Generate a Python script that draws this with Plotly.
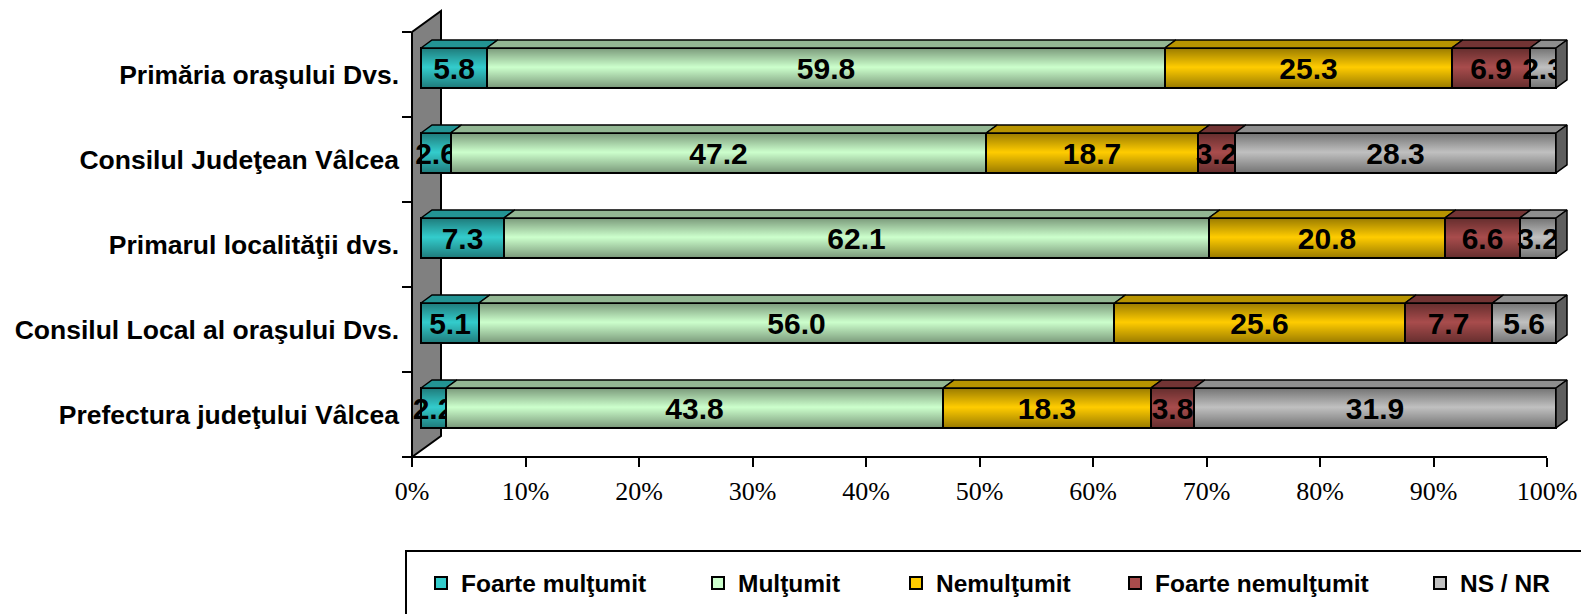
import plotly.graph_objects as go

# ---- data -------------------------------------------------------------
categories = [
    "Primăria oraşului Dvs.",
    "Consilul Judeţean Vâlcea",
    "Primarul localităţii dvs.",
    "Consilul Local al oraşului Dvs.",
    "Prefectura judeţului Vâlcea",
]
series_names = ["Foarte mulţumit", "Mulţumit", "Nemulţumit", "Foarte nemulţumit", "NS / NR"]

foarte_multumit = [5.8, 2.6, 7.3, 5.1, 2.2]
multumit = [59.8, 47.2, 62.1, 56.0, 43.8]
nemultumit = [25.3, 18.7, 20.8, 25.6, 18.3]
foarte_nemultumit = [6.9, 3.2, 6.6, 7.7, 3.8]
ns_nr = [2.3, 28.3, 3.2, 5.6, 31.9]

x_ticks = [0, 10, 20, 30, 40, 50, 60, 70, 80, 90, 100]
x_tick_labels = [f"{t}%" for t in x_ticks]

series_values = [foarte_multumit, multumit, nemultumit, foarte_nemultumit, ns_nr]

# ---- styling ----------------------------------------------------------
front_colors = ["#33CCCC", "#CCFFCC", "#FFCC00", "#A84C4C", "#C0C0C0"]
top_colors = ["#239494", "#93B793", "#B89400", "#723434", "#8E8E8E"]
end_color = "#5E5E5E"
wall_color = "#808080"

SANS = "Liberation Sans, Arial, sans-serif"
SERIF = "Liberation Serif, Times New Roman, serif"

W, H = 1581, 614
M_L, M_R, M_T, M_B = 412, 6, 32, 157
plot_w = W - M_L - M_R
plot_h = H - M_T - M_B

px_per_pct = 11.35                 # width of 1 % on the value axis
x_max = plot_w / px_per_pct        # value-axis range end
n = len(categories)
px_per_row = plot_h / n

# 3-D depth (pixels): full wall depth and the slab occupied by the bars
wall_dx, wall_dy = 29, 21
bar_front_dx = 9
bar_dx, bar_dy = 11, 8
bar_width = 0.47

shift_x = bar_front_dx / px_per_pct
shift_y = bar_front_dx * wall_dy / wall_dx / px_per_row
depth_x = bar_dx / px_per_pct
depth_y = bar_dy / px_per_row

ypos = [n - 1 - i for i in range(n)]          # first category on top
row_totals = [sum(s[i] for s in series_values) for i in range(n)]

fig = go.Figure()

# invisible anchor so the tick-carrying x/y subplot is created
fig.add_trace(go.Scatter(
    x=[0], y=[-0.5], mode="markers", marker=dict(size=1, opacity=0),
    showlegend=False, hoverinfo="skip",
))

# front faces
for k, (name, vals) in enumerate(zip(series_names, series_values)):
    fig.add_trace(go.Bar(
        orientation="h",
        x=vals,
        y=ypos,
        xaxis="x2",
        yaxis="y2",
        width=bar_width,
        name=name,
        legend="legend" if k == 0 else f"legend{k + 1}",
        marker=dict(color=front_colors[k], line=dict(color="black", width=2)),
        text=[f"{v:.1f}" for v in vals],
        textposition="inside",
        insidetextanchor="middle",
        textangle=0,
        constraintext="none",
        textfont=dict(family=SANS, size=30, color="black", weight="bold"),
        hoverinfo="skip",
    ))

# cylinder-like shading across each bar's front face
shade = [[0, "rgba(0,0,0,0.40)"], [0.52, "rgba(0,0,0,0)"], [1, "rgba(0,0,0,0.40)"]]
for y in ypos:
    y0, y1 = y - bar_width / 2, y + bar_width / 2
    fig.add_trace(go.Scatter(
        x=[0, 100, 100, 0, 0], y=[y0, y0, y1, y1, y0],
        xaxis="x2", yaxis="y2", mode="lines", line=dict(width=0),
        fill="toself", fillcolor="rgba(0,0,0,0)",
        fillgradient=dict(type="vertical", colorscale=shade),
        showlegend=False, hoverinfo="skip",
    ))

# top faces of every segment
cum = [0.0] * n
for k, vals in enumerate(series_values):
    xs, ys = [], []
    for i in range(n):
        share = vals[i] / row_totals[i] * 100
        c0, c1 = cum[i], cum[i] + share
        cum[i] = c1
        yt = ypos[i] + bar_width / 2
        xs += [c0, c1, c1 + depth_x, c0 + depth_x, c0, None]
        ys += [yt, yt, yt + depth_y, yt + depth_y, yt, None]
    fig.add_trace(go.Scatter(
        x=xs, y=ys, xaxis="x2", yaxis="y2", mode="lines",
        line=dict(color="black", width=1.5), fill="toself",
        fillcolor=top_colors[k], showlegend=False, hoverinfo="skip",
    ))

# right-hand end faces
xs, ys = [], []
for i in range(n):
    yb, yt = ypos[i] - bar_width / 2, ypos[i] + bar_width / 2
    xs += [100, 100 + depth_x, 100 + depth_x, 100, 100, None]
    ys += [yb, yb + depth_y, yt + depth_y, yt, yb, None]
fig.add_trace(go.Scatter(
    x=xs, y=ys, xaxis="x2", yaxis="y2", mode="lines",
    line=dict(color="black", width=1.5), fill="toself",
    fillcolor=end_color, showlegend=False, hoverinfo="skip",
))

# ---- back wall, axis baseline, legend frame ---------------------------
wx = wall_dx / plot_w
wy = wall_dy / plot_h
shapes = [
    dict(type="path", xref="paper", yref="paper", layer="below",
         path=f"M 0 0 L {wx} {wy} L {wx} {1 + wy} L 0 1 Z",
         fillcolor=wall_color, line=dict(color="black", width=2)),
    dict(type="line", xref="paper", yref="paper",
         x0=0, x1=100 * px_per_pct / plot_w, y0=0, y1=0,
         line=dict(color="black", width=2)),
    dict(type="rect", xref="paper", yref="paper",
         x0=(406 - M_L) / plot_w, x1=(W + 10 - M_L) / plot_w,
         y0=-(H + 10 - M_T - plot_h) / plot_h, y1=-(551 - M_T - plot_h) / plot_h,
         line=dict(color="black", width=2), fillcolor="rgba(0,0,0,0)"),
]

legend_x = [421, 698, 896, 1115, 1420]
legends = {}
for k, lx in enumerate(legend_x):
    key = "legend" if k == 0 else f"legend{k + 1}"
    legends[key] = dict(
        xref="container", yref="container", x=lx / W, y=1 - 583 / H,
        xanchor="left", yanchor="middle", orientation="h",
        bgcolor="rgba(0,0,0,0)", borderwidth=0,
        font=dict(family=SANS, size=24.5, color="black", weight="bold"),
    )

fig.update_layout(
    width=W, height=H,
    margin=dict(l=M_L, r=M_R, t=M_T, b=M_B),
    paper_bgcolor="white", plot_bgcolor="rgba(0,0,0,0)",
    barmode="stack", barnorm="percent", bargap=0,
    shapes=shapes,
    xaxis=dict(range=[0, x_max], tickmode="array", tickvals=x_ticks, ticktext=x_tick_labels,
               ticks="outside", ticklen=9, tickwidth=2, tickcolor="black",
               showline=False, showgrid=False, zeroline=False, automargin=False,
               ticklabelstandoff=2,
               tickfont=dict(family=SERIF, size=26, color="black")),
    yaxis=dict(range=[-0.5, n - 0.5], tickmode="array", tickvals=ypos, ticktext=categories,
               ticks="", showline=False, showgrid=False, zeroline=False, automargin=False,
               ticklabelstandoff=12,
               tickfont=dict(family=SANS, size=26.5, color="black", weight="bold"),
               minor=dict(tickmode="array", tickvals=[i - 0.5 for i in range(n + 1)],
                          ticks="outside", ticklen=9, tickwidth=2, tickcolor="black",
                          showgrid=False)),
    xaxis2=dict(overlaying="x", range=[-shift_x, x_max - shift_x], visible=False),
    yaxis2=dict(overlaying="y", range=[-0.5 - shift_y, n - 0.5 - shift_y], visible=False),
    **legends,
)

fig.write_html("out.html")
